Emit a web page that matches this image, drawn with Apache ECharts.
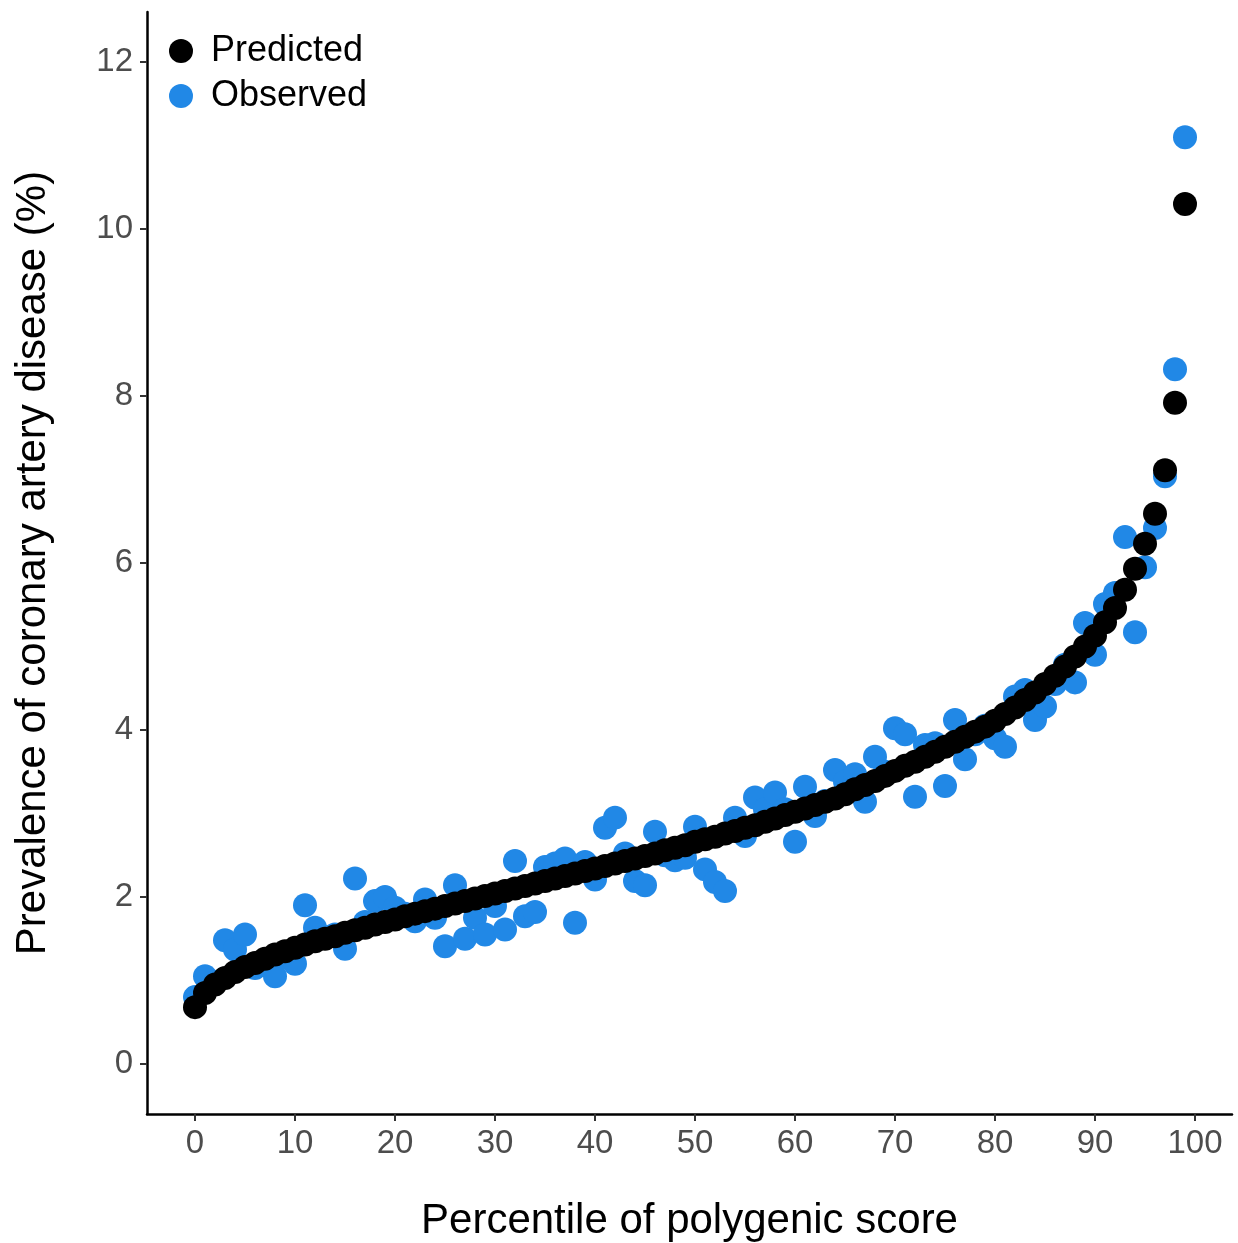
<!DOCTYPE html>
<html>
<head>
<meta charset="utf-8">
<script src="https://cdn.jsdelivr.net/npm/echarts@6/dist/echarts.min.js"></script>
<style>
html,body{margin:0;padding:0;background:#fff;}
#chart{width:1238px;height:1243px;}
</style>
</head>
<body>
<div id="chart"></div>
<script>
const percentiles = [0,1,2,3,4,5,6,7,8,9,10,11,12,13,14,15,16,17,18,19,20,21,22,23,24,25,26,27,28,29,30,31,32,33,34,35,36,37,38,39,40,41,42,43,44,45,46,47,48,49,50,51,52,53,54,55,56,57,58,59,60,61,62,63,64,65,66,67,68,69,70,71,72,73,74,75,76,77,78,79,80,81,82,83,84,85,86,87,88,89,90,91,92,93,94,95,96,97,98,99];

const predicted = [0.68,0.85,0.95,1.03,1.10,1.16,1.21,1.26,1.31,1.35,
1.39,1.43,1.47,1.50,1.53,1.57,1.60,1.63,1.67,1.70,
1.73,1.77,1.80,1.83,1.86,1.89,1.92,1.95,1.98,2.01,
2.04,2.07,2.10,2.13,2.16,2.19,2.22,2.25,2.28,2.31,
2.34,2.37,2.40,2.43,2.46,2.49,2.52,2.56,2.59,2.62,
2.66,2.69,2.72,2.76,2.79,2.83,2.86,2.90,2.94,2.98,
3.02,3.06,3.10,3.14,3.18,3.23,3.29,3.34,3.39,3.45,
3.51,3.57,3.62,3.68,3.74,3.80,3.86,3.92,3.98,4.04,
4.11,4.19,4.27,4.36,4.45,4.55,4.65,4.76,4.88,5.00,
5.13,5.29,5.46,5.68,5.93,6.23,6.59,7.11,7.92,10.30];

const observed = [0.80,1.05,0.98,1.48,1.37,1.55,1.15,1.22,1.05,1.28,
1.20,1.90,1.63,1.52,1.55,1.38,2.22,1.70,1.95,2.00,
1.87,1.80,1.71,1.97,1.75,1.41,2.14,1.50,1.75,1.55,
1.89,1.61,2.43,1.77,1.82,2.36,2.40,2.46,1.69,2.42,
2.21,2.83,2.95,2.52,2.19,2.14,2.78,2.50,2.44,2.47,
2.84,2.33,2.18,2.07,2.95,2.73,3.19,3.05,3.25,3.05,
2.66,3.32,2.97,3.15,3.52,3.38,3.47,3.14,3.68,3.50,
4.02,3.95,3.20,3.82,3.84,3.33,4.12,3.65,3.95,4.05,
3.90,3.80,4.40,4.48,4.12,4.28,4.55,4.78,4.57,5.28,
4.90,5.51,5.64,6.31,5.17,5.95,6.42,7.04,8.32,11.10];

const xTicks = [0,10,20,30,40,50,60,70,80,90,100];
const yTicks = [0,2,4,6,8,10,12];
const seriesNames = ['Predicted','Observed'];
const xTitle = 'Percentile of polygenic score';
const yTitle = 'Prevalence of coronary artery disease (%)';

const FONT = '"Liberation Sans", Arial, Helvetica, sans-serif';
const BLUE = '#2188E6';

const chart = echarts.init(document.getElementById('chart'), null, {renderer:'canvas'});
const pair = (ys) => percentiles.map((p, i) => [p, ys[i]]);

chart.setOption({
  animation: false,
  backgroundColor: '#ffffff',
  grid: {left: 147, right: 6, top: 12, bottom: 129, containLabel: false, outerBoundsMode: 'none'},
  legend: {
    data: seriesNames,
    orient: 'vertical',
    left: 164,
    top: 28,
    icon: 'circle',
    itemWidth: 50,
    itemHeight: 24,
    itemGap: 9,
    textStyle: {fontFamily: FONT, fontSize: 36, color: '#000', lineHeight: 36},
    selectedMode: false
  },
  xAxis: {
    type: 'value',
    min: -4.8,
    max: 103.7,
    name: xTitle,
    nameLocation: 'middle',
    nameGap: 86,
    nameTextStyle: {fontFamily: FONT, fontSize: 42, color: '#000'},
    axisLine: {show: true, onZero: false, lineStyle: {color: '#000', width: 2.5}},
    axisTick: {show: true, length: 7, customValues: xTicks, lineStyle: {color: '#333', width: 2}},
    axisLabel: {customValues: xTicks, margin: 13, fontFamily: FONT, fontSize: 33, color: '#4D4D4D'},
    splitLine: {show: false}
  },
  yAxis: {
    type: 'value',
    min: -0.6,
    max: 12.6,
    name: yTitle,
    nameLocation: 'middle',
    nameRotate: 90,
    nameGap: 93,
    nameTextStyle: {fontFamily: FONT, fontSize: 42, color: '#000'},
    axisLine: {show: true, onZero: false, lineStyle: {color: '#000', width: 2.5}},
    axisTick: {show: true, length: 7, customValues: yTicks, lineStyle: {color: '#333', width: 2}},
    axisLabel: {customValues: yTicks, margin: 14, fontFamily: FONT, fontSize: 33, color: '#4D4D4D'},
    splitLine: {show: false}
  },
  series: [
    {
      name: 'Observed',
      type: 'scatter',
      symbol: 'circle',
      symbolSize: 24,
      itemStyle: {color: BLUE, opacity: 1},
      data: pair(observed),
      z: 2
    },
    {
      name: 'Predicted',
      type: 'scatter',
      symbol: 'circle',
      symbolSize: 24,
      itemStyle: {color: '#000', opacity: 1},
      data: pair(predicted),
      z: 3
    }
  ]
});
</script>
</body>
</html>
